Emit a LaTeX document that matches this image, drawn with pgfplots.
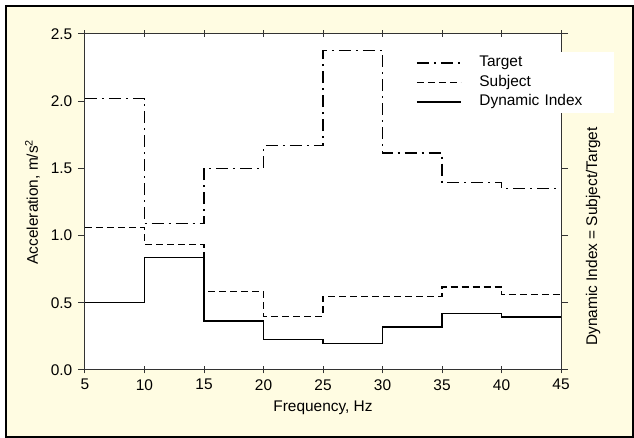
\documentclass[border=0pt]{standalone}
\usepackage{pgfplots}
\pgfplotsset{compat=1.18}
\usetikzlibrary{backgrounds}
\usepackage{fontspec}
\setmainfont{Liberation Sans}
\definecolor{bgy}{RGB}{255,252,226}
\begin{document}
\fontsize{15.5}{18}\selectfont
\begin{tikzpicture}
\begin{axis}[scale only axis,
  width=476bp, height=336bp,
  xmin=5, xmax=45, ymin=0, ymax=2.5,
  xtick={5,10,...,45}, ytick={0,0.5,...,2.5},
  axis background/.style={fill=white},
  axis line style={black!80, line width=1bp},
  every tick/.style={black!80, line width=1bp},
  /pgf/number format/assume math mode=true,
  yticklabel style={/pgf/number format/.cd, fixed, fixed zerofill, precision=1},
  tick label style={font=\fontsize{15.5}{18}\selectfont},
  label style={font=\fontsize{15.5}{18}\selectfont},
  xtick align=center, ytick align=outside,
  major tick length=7bp,
  xlabel={Frequency, Hz},
  ylabel={Acceleration, m/s\textsuperscript{2}},
  legend style={at={(1.1134,0.949)}, anchor=north east, draw=none, fill=white,
    font=\fontsize{15.5}{18}\selectfont, inner xsep=4bp, inner ysep=4bp,
    column sep=18bp, row sep=5bp,
    nodes={inner sep=0pt, text width=131bp, text height=11bp, text depth=3.5bp}},
  legend cell align=left,
  legend image code/.code={\draw[#1] (0bp,0bp) -- (44bp,0bp);},
  const plot, line width=1.2bp,
]
\addplot[black, dash pattern=on 12bp off 5bp on 2bp off 5bp] coordinates {
 (5,2.02)(10,1.088)(15,1.50)(20,1.668)(25,2.375)(30,1.615)(35,1.397)(40,1.352)(45,1.352)};
\addlegendentry{Target}
\addplot[black, dash pattern=on 7bp off 4bp] coordinates {
 (5,1.058)(10,0.932)(15,0.582)(20,0.398)(25,0.548)(30,0.548)(35,0.618)(40,0.56)(45,0.56)};
\addlegendentry{Subject}
\addplot[black] coordinates {
 (5,0.503)(10,0.838)(15,0.365)(20,0.225)(25,0.197)(30,0.32)(35,0.42)(40,0.395)(45,0.395)};
\addlegendentry{Dynamic Index}
\coordinate (ll) at (rel axis cs:0,0);
\end{axis}
\begin{scope}[shift={(ll)}, x=1bp, y=1bp]
\pgfresetboundingbox
\useasboundingbox (-85,-68) rectangle (549,370);
\begin{pgfonlayer}{background}
\fill[bgy] (-79,-67) rectangle (548,364);
\draw[line width=1.4bp] (-79,-67) rectangle (548,364);
\end{pgfonlayer}
\node[rotate=90, font=\fontsize{15.5}{18}\selectfont] at (508,133.5) {Dynamic Index = Subject/Target};
\end{scope}
\end{tikzpicture}
\end{document}
